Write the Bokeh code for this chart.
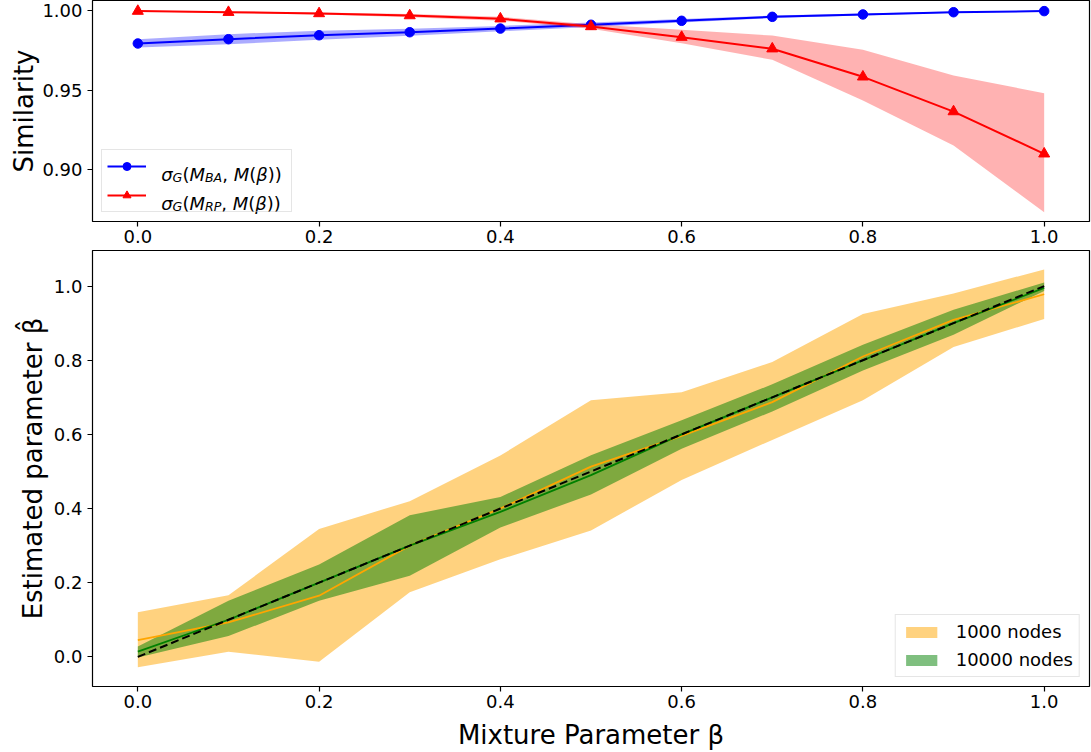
import math
from bokeh.plotting import figure
from bokeh.layouts import column
from bokeh.models import (Range1d, FixedTicker, PrintfTickFormatter, Legend,
                          LegendItem, Label, ColumnDataSource)
from bokeh.embed import file_html
from bokeh.resources import INLINE

# ---------------- data ----------------
beta = [0.0, 0.1, 0.2, 0.3, 0.4, 0.5, 0.6, 0.7, 0.8, 0.9, 1.0]

sim_ba = [0.9794, 0.9821, 0.9846, 0.9865, 0.9888, 0.9912, 0.9937, 0.9962, 0.9977, 0.9991, 0.9998]
sim_ba_lo = [0.9768, 0.9789, 0.9818, 0.9843, 0.9871, 0.9898, 0.9926, 0.9954, 0.9971, 0.9987, 0.9996]
sim_ba_hi = [0.9820, 0.9853, 0.9874, 0.9887, 0.9905, 0.9926, 0.9948, 0.9970, 0.9983, 0.9995, 1.0000]

sim_rp = [0.9998, 0.9991, 0.9983, 0.9970, 0.9950, 0.9901, 0.9834, 0.9761, 0.9584, 0.9365, 0.9099]
sim_rp_lo = [0.9995, 0.9986, 0.9976, 0.9960, 0.9938, 0.9887, 0.9796, 0.9691, 0.9435, 0.9151, 0.8731]
sim_rp_hi = [1.0001, 0.9996, 0.9990, 0.9980, 0.9962, 0.9915, 0.9880, 0.9844, 0.9754, 0.9592, 0.9481]

est_1000 = [0.045, 0.093, 0.165, 0.300, 0.400, 0.513, 0.596, 0.687, 0.810, 0.909, 0.978]
est_1000_lo = [-0.028, 0.014, -0.013, 0.174, 0.263, 0.341, 0.477, 0.585, 0.692, 0.836, 0.911]
est_1000_hi = [0.120, 0.166, 0.345, 0.420, 0.543, 0.692, 0.714, 0.795, 0.925, 0.980, 1.045]

est_10000 = [0.014, 0.100, 0.200, 0.300, 0.391, 0.490, 0.600, 0.700, 0.800, 0.900, 0.995]
est_10000_lo = [-0.002, 0.056, 0.151, 0.219, 0.349, 0.438, 0.561, 0.662, 0.772, 0.869, 0.987]
est_10000_hi = [0.028, 0.151, 0.249, 0.382, 0.431, 0.544, 0.638, 0.735, 0.842, 0.936, 1.010]

x_ticks = [0.0, 0.2, 0.4, 0.6, 0.8, 1.0]
sim_ticks = [0.90, 0.95, 1.00]
est_ticks = [0.0, 0.2, 0.4, 0.6, 0.8, 1.0]

legend_bottom = ["1000 nodes", "10000 nodes"]

FONT = "DejaVu Sans"
TICK_SIZE = "18px"
LABEL_SIZE = "26px"


def style(p, xfmt, yfmt, yticks):
    p.grid.visible = False
    p.outline_line_color = "black"
    p.outline_line_width = 1.2
    p.xaxis.ticker = FixedTicker(ticks=x_ticks)
    p.yaxis.ticker = FixedTicker(ticks=yticks)
    p.xaxis.formatter = PrintfTickFormatter(format=xfmt)
    p.yaxis.formatter = PrintfTickFormatter(format=yfmt)
    for ax in p.axis:
        ax.axis_line_color = None
        ax.major_tick_line_color = "black"
        ax.major_tick_line_width = 1.2
        ax.major_tick_out = 5
        ax.major_tick_in = 0
        ax.minor_tick_line_color = None
        ax.major_label_text_font = FONT
        ax.major_label_text_font_size = TICK_SIZE
        ax.major_label_text_color = "black"
        ax.axis_label_text_font = FONT
        ax.axis_label_text_font_size = LABEL_SIZE
        ax.axis_label_text_font_style = "normal"
        ax.axis_label_text_color = "black"
    p.xaxis.major_label_standoff = 3
    p.yaxis.major_label_standoff = 5


# ---------------- top panel ----------------
p1 = figure(width=1091, height=250, x_range=Range1d(-0.05, 1.05),
            y_range=Range1d(0.86723, 1.00649), output_backend="svg",
            toolbar_location=None, min_border_left=92, min_border_right=2,
            min_border_top=0, min_border_bottom=29)
style(p1, "%.1f", "%.2f", sim_ticks)
p1.yaxis.axis_label = "Similarity"
p1.yaxis.axis_label_standoff = 0

src1 = ColumnDataSource(dict(x=beta, ba=sim_ba, ba_lo=sim_ba_lo, ba_hi=sim_ba_hi,
                             rp=sim_rp, rp_lo=sim_rp_lo, rp_hi=sim_rp_hi))
p1.varea(x="x", y1="ba_lo", y2="ba_hi", source=src1, fill_color="blue", fill_alpha=0.33)
l_ba = p1.line(x="x", y="ba", source=src1, line_color="blue", line_width=2)
s_ba = p1.scatter(x="x", y="ba", source=src1, marker="circle", size=9.5,
                  fill_color="blue", line_color="blue")
p1.varea(x="x", y1="rp_lo", y2="rp_hi", source=src1, fill_color="red", fill_alpha=0.3)
l_rp = p1.line(x="x", y="rp", source=src1, line_color="red", line_width=2)
s_rp = p1.scatter(x="x", y="rp", source=src1, marker="triangle", size=11,
                  fill_color="red", line_color="red")

leg1 = Legend(items=[LegendItem(label=" ", renderers=[l_ba, s_ba]),
                     LegendItem(label=" ", renderers=[l_rp, s_rp])],
              location="bottom_left", margin=9, padding=5, spacing=7,
              glyph_width=39, glyph_height=20, label_height=22, label_width=125,
              label_standoff=15, label_text_font_size="18px",
              border_line_color="#cccccc", border_line_width=1,
              background_fill_color=None)
p1.add_layout(leg1)

# math-like legend texts built from pieces (layout offsets, px)
pieces_ba = [("\u03c3", True, False, 0.0), ("G", True, True, 11.4), ("(", False, False, 21.2),
             ("M", True, False, 28.2), ("BA", True, True, 43.7), (",", False, False, 61.0),
             ("M", True, False, 72.5), ("(", False, False, 88.0), ("\u03b2", True, False, 95.0),
             ("))", False, False, 106.5)]
pieces_rp = [("\u03c3", True, False, 0.0), ("G", True, True, 11.4), ("(", False, False, 21.2),
             ("M", True, False, 28.2), ("RP", True, True, 43.7), (",", False, False, 60.1),
             ("M", True, False, 71.6), ("(", False, False, 87.1), ("\u03b2", True, False, 94.1),
             ("))", False, False, 105.6)]
for pieces, base_y in ((pieces_ba, 47), (pieces_rp, 18)):
    for txt, ital, sub, dx in pieces:
        p1.add_layout(Label(x=68.7 + dx, y=base_y - (2.5 if sub else 0), x_units="screen",
                            y_units="screen", text=txt, text_font=FONT,
                            text_font_size="12.6px" if sub else "18px",
                            text_font_style="italic" if ital else "normal",
                            text_color="black", text_baseline="alphabetic",
                            text_align="left", level="overlay"))

# ---------------- bottom panel ----------------
p2 = figure(width=1091, height=502, x_range=Range1d(-0.05, 1.05),
            y_range=Range1d(-0.08, 1.096), output_backend="svg",
            toolbar_location=None, min_border_left=92, min_border_right=2,
            min_border_top=0, min_border_bottom=61)
style(p2, "%.1f", "%.1f", est_ticks)
p2.yaxis.axis_label = "Estimated parameter \u03b2\u0302"
p2.yaxis.axis_label_standoff = 3
p2.xaxis.axis_label = "Mixture Parameter \u03b2"
p2.xaxis.axis_label_standoff = 9

src2 = ColumnDataSource(dict(x=beta, a=est_1000, a_lo=est_1000_lo, a_hi=est_1000_hi,
                             b=est_10000, b_lo=est_10000_lo, b_hi=est_10000_hi))
v1 = p2.varea(x="x", y1="a_lo", y2="a_hi", source=src2, fill_color="orange", fill_alpha=0.5)
v2 = p2.varea(x="x", y1="b_lo", y2="b_hi", source=src2, fill_color="green", fill_alpha=0.5)
p2.line(x="x", y="a", source=src2, line_color="orange", line_width=1.8)
p2.line(x="x", y="b", source=src2, line_color="green", line_width=1.8)
p2.line(x=beta, y=beta, line_color="black", line_width=2, line_dash="8 4")

leg2 = Legend(items=[LegendItem(label=legend_bottom[0], renderers=[v1]),
                     LegendItem(label=legend_bottom[1], renderers=[v2])],
              location="bottom_right", margin=9, padding=6, spacing=7,
              glyph_width=39, glyph_height=14, label_height=20, label_width=117,
              label_standoff=15, label_text_font=FONT, label_text_font_size="18px",
              label_text_color="black",
              border_line_color="#cccccc", border_line_width=1,
              background_fill_alpha=0.8)
p2.add_layout(leg2)

layout = column(p1, p2, spacing=0)

open("out.html", "w").write(file_html(layout, INLINE))
